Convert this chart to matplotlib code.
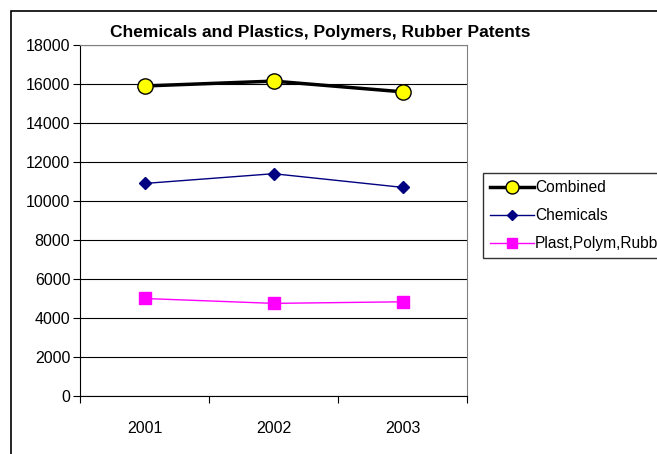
import matplotlib
matplotlib.use("Agg")
import matplotlib.pyplot as plt
from matplotlib.patches import Rectangle

plt.rcParams['font.family'] = ['Liberation Sans', 'DejaVu Sans']

# data
anos = ["2001", "2002", "2003"]
combinado = [15900, 16150, 15600]
quimicos = [10900, 11400, 10700]
plasticos = [5000, 4750, 4830]

fig = plt.figure(figsize=(6.57, 4.54), dpi=100)
ax = fig.add_axes([0.1218, 0.1278, 0.589, 0.773])

# chart area border (runs off right and bottom edges)
fig.patches.append(Rectangle((11 / 657, -0.1), 1.2, 1 - 11 / 454 + 0.1,
                             transform=fig.transFigure, fill=False,
                             edgecolor="black", linewidth=1.2))

x = range(len(anos))
ax.plot(x, combinado, color="black", linewidth=2.5, marker="o",
        markersize=11, markerfacecolor="yellow", markeredgecolor="black",
        markeredgewidth=1, label="Combined", zorder=5)
ax.plot(x, quimicos, color="#000080", linewidth=1, marker="D",
        markersize=6, markerfacecolor="#000080", label="Chemicals", zorder=4)
ax.plot(x, plasticos, color="#FF00FF", linewidth=1, marker="s",
        markersize=8, markerfacecolor="#FF00FF", label="Plast,Polym,Rubb",
        zorder=4)

ax.set_xlim(-0.5, 2.5)
ax.set_ylim(0, 18000)
ax.set_yticks(range(0, 18001, 2000))
ax.set_xticks([-0.5, 0.5, 1.5, 2.5])
ax.set_xticklabels([])
ax.set_xticks(list(x), minor=True)
ax.set_xticklabels(anos, minor=True)
ax.tick_params(axis="x", which="minor", length=0, pad=18, labelsize=11.5)
ax.tick_params(axis="x", which="major", length=5, direction="out")
ax.tick_params(axis="y", length=5, direction="out", labelsize=11.5, pad=2)
ax.yaxis.grid(True, color="black", linewidth=0.8)
ax.set_axisbelow(True)

ax.spines["top"].set_color("#808080")
ax.spines["right"].set_color("#808080")
ax.spines["left"].set_color("black")
ax.spines["bottom"].set_color("black")

ax.set_title("Chemicals and Plastics, Polymers, Rubber Patents",
             fontsize=12.5, fontweight="bold", pad=6, x=0.62)

leg = ax.legend(loc="upper left", bbox_to_anchor=(483 / 657, 1 - 173 / 454),
                bbox_transform=fig.transFigure, frameon=True, fancybox=False,
                edgecolor="black", fontsize=11.2, handlelength=2.8,
                borderpad=0.45, labelspacing=0.85, handletextpad=0.1,
                borderaxespad=0, markerscale=0.85)
leg.get_frame().set_linewidth(1)

fig.savefig("out.png", dpi=100)
